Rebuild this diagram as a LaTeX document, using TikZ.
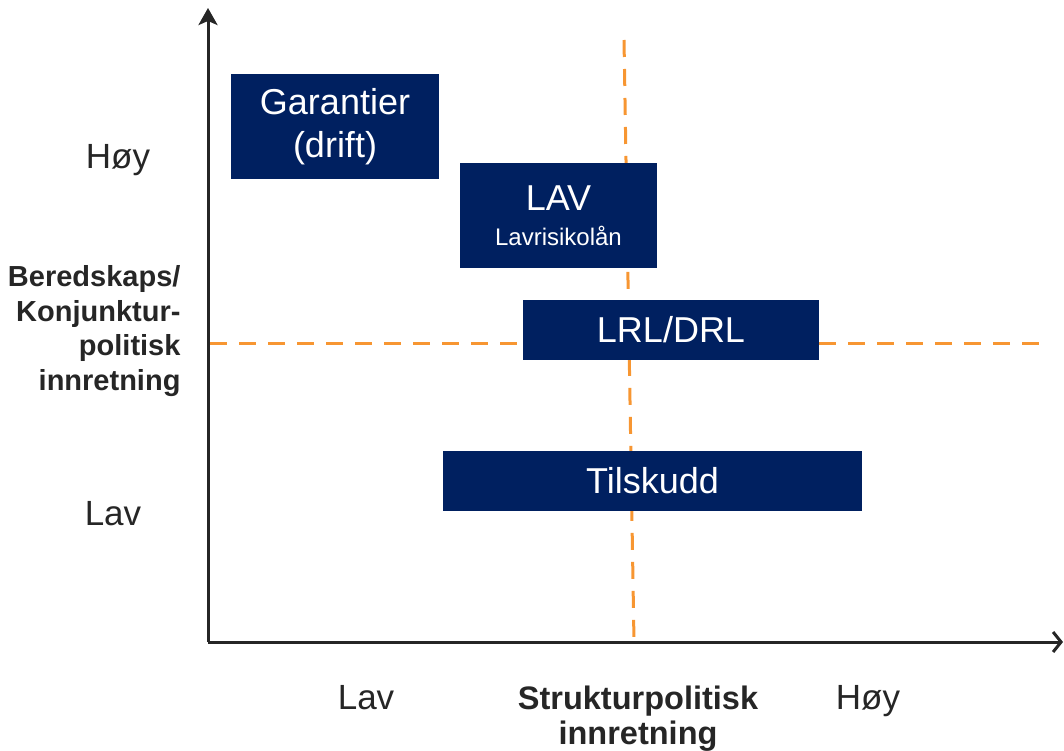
\documentclass[tikz,border=0pt]{standalone}
\usepackage{fontspec}
\setmainfont{Liberation Sans}
\usetikzlibrary{arrows.meta}

\definecolor{navy}{RGB}{0,32,96}
\definecolor{dashorange}{RGB}{247,150,50}
\definecolor{axisgray}{RGB}{38,38,38}

\tikzset{
policybox/.style={
fill=navy,
text=white,
inner sep=0pt,
align=center,
font=\fontsize{36}{46}\selectfont
},
axislabel/.style={
text=axisgray,
font=\fontsize{35}{35}\selectfont
},
axistitle/.style={
text=axisgray,
align=center,
font=\fontsize{32.5}{35}\selectfont\bfseries
},
divider/.style={
draw=dashorange,
line width=3pt,
dash pattern=on 17pt off 12pt
}
}

\begin{document}
\begin{tikzpicture}[x=1pt,y=-1pt]

%%%%%%%%%%%%%%%%%%%%%%%%%%%%%%%%%%%%%%%%%%%%%%%%%%%%%%
% CANVAS
%%%%%%%%%%%%%%%%%%%%%%%%%%%%%%%%%%%%%%%%%%%%%%%%%%%%%%

\useasboundingbox (0,0) rectangle (1064,751);

%%%%%%%%%%%%%%%%%%%%%%%%%%%%%%%%%%%%%%%%%%%%%%%%%%%%%%
% AXES
%%%%%%%%%%%%%%%%%%%%%%%%%%%%%%%%%%%%%%%%%%%%%%%%%%%%%%

\coordinate (origin) at (208,642);
\coordinate (ytop) at (208,8);
\coordinate (xend) at (1063,642);

\draw[axisgray,line width=3pt,-{Stealth[length=17pt,width=19pt,inset=4pt]}]
(origin)--(ytop);

\draw[axisgray,line width=3pt,-{Straight Barb[length=8pt,width=20pt]}]
(origin)--(xend);

%%%%%%%%%%%%%%%%%%%%%%%%%%%%%%%%%%%%%%%%%%%%%%%%%%%%%%
% DIVIDERS
%%%%%%%%%%%%%%%%%%%%%%%%%%%%%%%%%%%%%%%%%%%%%%%%%%%%%%

\coordinate (vtop) at (624,40);
\coordinate (vbot) at (634,642);
\coordinate (hleft) at (210,343);
\coordinate (hright) at (1046,343);

\draw[divider] (vtop)--(vbot);

\draw[divider] (hleft)--(hright);

%%%%%%%%%%%%%%%%%%%%%%%%%%%%%%%%%%%%%%%%%%%%%%%%%%%%%%
% INSTRUMENTS
%%%%%%%%%%%%%%%%%%%%%%%%%%%%%%%%%%%%%%%%%%%%%%%%%%%%%%

\node[
policybox,
minimum width=208pt,
minimum height=105pt
](garantier)
at (335,126.5)
{\raisebox{-3pt}{Garantier}\\(drift)};

\node[
policybox,
minimum width=197pt,
minimum height=105pt
](lav)
at (558.5,215.5)
{LAV\\[-11pt]{\fontsize{24}{28}\selectfont Lavrisikolån}};

\node[
policybox,
minimum width=296pt,
minimum height=60pt
](lrl)
at (671,330)
{LRL/DRL};

\node[
policybox,
minimum width=419pt,
minimum height=60pt
](tilskudd)
at (652.5,481)
{\raisebox{-2pt}{Tilskudd}};

%%%%%%%%%%%%%%%%%%%%%%%%%%%%%%%%%%%%%%%%%%%%%%%%%%%%%%
% LABELS
%%%%%%%%%%%%%%%%%%%%%%%%%%%%%%%%%%%%%%%%%%%%%%%%%%%%%%

\node[axislabel](yhigh) at (118,160) {Høy};

\node[axislabel](ylow) at (113,514) {Lav};

\node[
axistitle,
align=right,
anchor=east,
font=\fontsize{29}{34.5}\selectfont\bfseries
](ytitle) at (184,331)
{Beredskaps/\\Konjunktur-\\politisk\\innretning};

\node[axislabel](xlow) at (366,698) {Lav};

\node[axislabel](xhigh) at (868,701) {Høy};

\node[axistitle](xtitle) at (638,719)
{Strukturpolitisk\\innretning};

\end{tikzpicture}
\end{document}
